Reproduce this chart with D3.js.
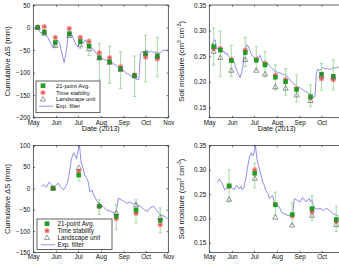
<!DOCTYPE html>
<html><head><meta charset="utf-8">
<script src="https://cdn.jsdelivr.net/npm/d3@7/dist/d3.min.js"></script>
<style>body{margin:0;background:#fff}svg{display:block;font-family:"Liberation Sans",Arial,sans-serif}</style>
</head><body><svg id="c" width="339" height="264"></svg>
<script>
// ---------- tick labels ----------
const monthLabels = ["May","Jun","Jul","Aug","Sep","Oct","Nov"];
const monthDates = ["2013-05-01","2013-06-01","2013-07-01","2013-08-01","2013-09-01","2013-10-01","2013-11-01"];
const dsTicksTop = [50,0,-50,-100,-150,-200];
const dsTicksBottom = [100,50,0,-50,-100,-150];
const smTicks = [0.15,0.20,0.25,0.30,0.35];
const legendLabels = ["21-point Avg.","Time stability","Landscape unit","Exp. filter"];

// ---------- top row: sampling dates ----------
const datesTop = ["2013-05-07","2013-05-16","2013-05-31","2013-06-19","2013-07-04","2013-07-16","2013-07-30","2013-08-13","2013-08-28","2013-09-16","2013-10-01","2013-10-17"];
// panel 1: cumulative storage change (mm)
const avg1 = [0,-10,-33,-14,-31,-41,-67,-76,-92,-107,-58,-63];
const ts1  = [1,2,-22,-2,-22,-31,-56,-67,-87,-105,-66,-70];
const lu1  = [0,-13,-40,-18,-39,-48,-68,-78,-93,-108,-57,-64];
const hi1  = [0,-5,-25,-7,-19,-25,-35,-42,-54,-63,-17,-22];
const lo1  = [0,-17,-45,-22,-46,-62,-116,-124,-135,-153,-120,-109];
// panel 2: soil moisture
const avg2 = [0.269,0.262,0.241,0.257,0.242,0.233,0.209,0.200,0.185,0.171,0.215,0.211];
const ts2  = [0.265,0.265,0.244,0.262,0.244,0.236,0.213,0.204,0.187,0.169,0.206,0.204];
const lu2  = [0.259,0.247,0.222,0.243,0.222,0.215,0.190,0.187,0.174,0.163,0.212,0.209];
const hi2  = [0.305,0.299,0.271,0.287,0.269,0.259,0.233,0.226,0.213,0.194,0.236,0.243];
const lo2  = [0.233,0.210,0.210,0.230,0.223,0.210,0.184,0.174,0.161,0.152,0.184,0.184];

// exp. filter series, top row
const filt1Dates = ["2013-05-05","2013-05-07","2013-05-09","2013-05-11","2013-05-13","2013-05-15","2013-05-17","2013-05-19","2013-05-21","2013-05-23","2013-05-25","2013-05-27","2013-05-29","2013-05-31","2013-06-02","2013-06-04","2013-06-06","2013-06-08","2013-06-10","2013-06-12","2013-06-14","2013-06-16","2013-06-17","2013-06-19","2013-06-21","2013-06-23","2013-06-25","2013-06-27","2013-06-29","2013-07-01","2013-07-03","2013-07-05","2013-07-07","2013-07-09","2013-07-11","2013-07-13","2013-07-15","2013-07-17","2013-07-19","2013-07-21","2013-07-23","2013-07-26","2013-07-28","2013-07-31","2013-08-03","2013-08-06","2013-08-09","2013-08-12","2013-08-15","2013-08-18","2013-08-21","2013-08-24","2013-08-27","2013-08-30","2013-09-02","2013-09-05","2013-09-08","2013-09-11","2013-09-14","2013-09-17","2013-09-20","2013-09-22","2013-09-24","2013-09-26","2013-09-28","2013-10-01","2013-10-03","2013-10-06","2013-10-09","2013-10-12","2013-10-15","2013-10-18","2013-10-21","2013-10-24","2013-10-27","2013-10-30","2013-11-01"];
const filt1Vals = [0,-4,-6,-12,-11,-16,-15,-20,-22,-30,-36,-42,-44,-31,-26,-30,-34,-50,-64,-78,-62,-40,-20,-4,-9,-18,-26,-34,-40,-42,-33,-30,-36,-32,-27,-35,-42,-45,-44,-49,-50,-58,-62,-68,-69,-71,-73,-74,-76,-80,-83,-87,-90,-94,-97,-101,-104,-107,-110,-113,-116,-115,-58,-53,-55,-54,-51,-55,-52,-56,-54,-56,-57,-51,-50,-51,-48];
const filt2Vals = [0.272,0.280,0.282,0.264,0.266,0.262,0.263,0.258,0.260,0.254,0.256,0.250,0.247,0.240,0.244,0.238,0.228,0.220,0.214,0.208,0.218,0.232,0.250,0.262,0.272,0.270,0.262,0.255,0.250,0.248,0.242,0.250,0.246,0.252,0.244,0.238,0.241,0.236,0.236,0.234,0.230,0.226,0.222,0.220,0.218,0.217,0.215,0.214,0.210,0.206,0.200,0.196,0.193,0.190,0.188,0.185,0.182,0.180,0.177,0.174,0.170,0.171,0.218,0.225,0.222,0.226,0.228,0.225,0.227,0.224,0.226,0.228,0.227,0.229,0.231,0.230,0.233];

// ---------- bottom row ----------
const datesBottom = ["2013-05-28","2013-07-02","2013-07-30","2013-08-22","2013-09-18","2013-10-21"];
const avg3 = [0,31,-42,-65,-51,-75];
const ts3  = [0,40,-42,-71,-59,-85];
const lu3  = [0,48,-40,-58,-40,-68];
const hi3  = [0,44,-27,-38,-27,-46];
const lo3  = [0,17,-61,-96,-81,-104];
const avg4 = [0.267,0.293,0.228,0.208,0.220,0.198];
const ts4  = [0.266,0.300,0.229,0.205,0.214,0.194];
const lu4  = [0.239,0.282,0.202,0.186,0.206,0.187];
const hi4  = [0.300,0.314,0.254,0.232,0.247,0.225];
const lo4  = [0.234,0.263,0.207,0.187,0.196,0.173];

const filt3Dates = ["2013-05-12","2013-05-15","2013-05-19","2013-05-22","2013-05-26","2013-05-28","2013-05-31","2013-06-04","2013-06-07","2013-06-11","2013-06-13","2013-06-15","2013-06-17","2013-06-20","2013-06-22","2013-06-25","2013-06-27","2013-06-29","2013-07-01","2013-07-03","2013-07-05","2013-07-08","2013-07-10","2013-07-13","2013-07-15","2013-07-17","2013-07-20","2013-07-22","2013-07-26","2013-07-30","2013-08-04","2013-08-08","2013-08-15","2013-08-20","2013-08-22","2013-08-25","2013-08-29","2013-09-02","2013-09-05","2013-09-10","2013-09-14","2013-09-16","2013-09-18","2013-09-20","2013-09-24","2013-09-29","2013-10-04","2013-10-07","2013-10-12","2013-10-17","2013-10-22","2013-10-27","2013-10-31"];
const filt3Vals = [4,8,2,14,8,0,6,12,4,-4,0,8,15,46,69,83,77,69,88,100,62,46,31,23,15,-8,-4,-15,-27,-38,-42,-50,-54,-58,-54,-23,-27,-31,-35,-32,-37,-35,-31,-40,-42,-50,-54,-46,-42,-54,-62,-66,-71];
const filt4Vals = [0.274,0.281,0.271,0.259,0.263,0.261,0.264,0.259,0.268,0.261,0.266,0.259,0.263,0.284,0.304,0.328,0.335,0.328,0.335,0.350,0.321,0.304,0.291,0.274,0.268,0.257,0.251,0.241,0.247,0.227,0.224,0.212,0.207,0.205,0.202,0.241,0.237,0.234,0.243,0.234,0.241,0.234,0.239,0.224,0.219,0.221,0.216,0.221,0.217,0.209,0.207,0.202,0.205];

// ---------- drawing ----------
const svg = d3.select("#c");
const parse = d3.timeParse("%Y-%m-%d");
const xDomain = [parse("2013-05-01"), parse("2013-11-01")];
const C = {sq:"#1f9f1f", starFill:"#f6aaaa", star:"#e23a3a", tri:"#555", line:"#7272e8", err:"#98d898", axis:"#222"};

function drawPanel(cfg, idx) {
  const x = d3.scaleTime().domain(xDomain).range([cfg.left, cfg.right]);
  const y = d3.scaleLinear().domain(cfg.yDomain).range([cfg.bottom, cfg.top]);
  const g = svg.append("g");
  const cid = "clip" + idx;
  svg.append("clipPath").attr("id", cid).append("rect")
    .attr("x", cfg.left).attr("y", cfg.top).attr("width", cfg.right - cfg.left).attr("height", cfg.bottom - cfg.top);
  const plot = g.append("g").attr("clip-path", `url(#${cid})`);

  // exp filter line
  const lineData = cfg.lineDates.map((d,i)=>({d:parse(d), v:cfg.lineVals[i]}));
  plot.append("path").datum(lineData)
    .attr("d", d3.line().x(p=>x(p.d)).y(p=>y(p.v)))
    .attr("fill","none").attr("stroke",C.line).attr("stroke-width",0.8);

  const pts = cfg.dates.map((d,i)=>({d:parse(d), a:cfg.avg[i], t:cfg.ts[i], l:cfg.lu[i], hi:cfg.hi[i], lo:cfg.lo[i]}));
  // error bars
  const eb = plot.selectAll(".eb").data(pts.filter(p=>p.hi!==p.lo)).join("g");
  eb.append("line").attr("x1",p=>x(p.d)).attr("x2",p=>x(p.d)).attr("y1",p=>y(p.hi)).attr("y2",p=>y(p.lo));
  eb.append("line").attr("x1",p=>x(p.d)-1.6).attr("x2",p=>x(p.d)+1.6).attr("y1",p=>y(p.hi)).attr("y2",p=>y(p.hi));
  eb.append("line").attr("x1",p=>x(p.d)-1.6).attr("x2",p=>x(p.d)+1.6).attr("y1",p=>y(p.lo)).attr("y2",p=>y(p.lo));
  eb.selectAll("line").attr("stroke",C.err).attr("stroke-width",0.9);

  // markers
  pts.forEach(p=>{
    drawStar(plot, x(p.d), y(p.t));
    drawSquare(plot, x(p.d), y(p.a));
    drawTri(plot, x(p.d), y(p.l));
  });

  // axes box
  g.append("rect").attr("x",cfg.left).attr("y",cfg.top).attr("width",cfg.right-cfg.left).attr("height",cfg.bottom-cfg.top)
    .attr("fill","none").attr("stroke",C.axis).attr("stroke-width",0.7);
  const mD = monthDates.map(parse);
  const ax = d3.axisBottom(x).tickValues(mD).tickFormat((d,i)=>monthLabels[i]).tickSizeInner(-1.8).tickSizeOuter(0).tickPadding(2.5);
  const xa = g.append("g").attr("transform",`translate(0,${cfg.bottom})`).call(ax);
  const ay = d3.axisLeft(y).tickValues(cfg.yTicks).tickFormat(cfg.fmt).tickSizeInner(-1.8).tickSizeOuter(0).tickPadding(3);
  const ya = g.append("g").attr("transform",`translate(${cfg.left},0)`).call(ay);
  const axT = d3.axisTop(x).tickValues(mD).tickFormat("").tickSizeInner(-1.8).tickSizeOuter(0);
  g.append("g").attr("transform",`translate(0,${cfg.top})`).call(axT);
  const ayR = d3.axisRight(y).tickValues(cfg.yTicks).tickFormat("").tickSizeInner(-1.8).tickSizeOuter(0);
  g.append("g").attr("transform",`translate(${cfg.right},0)`).call(ayR);
  g.selectAll(".domain").remove();
  g.selectAll(".tick line").attr("stroke",C.axis).attr("stroke-width",0.6);
  g.selectAll(".tick text").attr("font-size",6.3).attr("fill","#111").attr("font-family","Liberation Sans, Arial, sans-serif");

  // axis titles
  const yl = g.append("text").attr("transform",`translate(${cfg.ylx},${(cfg.top+cfg.bottom)/2}) rotate(-90)`)
    .attr("text-anchor","middle").attr("font-size",7.6).attr("fill","#111");
  if (cfg.sm) {
    yl.append("tspan").text("Soil moisture (cm");
    yl.append("tspan").text("3").attr("font-size",5).attr("dy",-2.6);
    yl.append("tspan").text(" cm").attr("dy",2.6);
    yl.append("tspan").text("-3").attr("font-size",5).attr("dy",-2.6);
    yl.append("tspan").text(")").attr("dy",2.6);
  } else {
    yl.text("Cumulative  ΔS (mm)");
  }
  if (cfg.xlabel) {
    g.append("text").attr("x",(cfg.left+cfg.right)/2).attr("y",cfg.bottom+13.5).attr("text-anchor","middle")
      .attr("font-size",7.2).attr("fill","#111").text("Date (2013)");
  }

  // legend
  if (cfg.legend) {
    const L = cfg.legend;
    const lg = g.append("g");
    lg.append("rect").attr("x",L.x).attr("y",L.y).attr("width",L.w).attr("height",L.h)
      .attr("fill","#fff").attr("stroke",C.axis).attr("stroke-width",0.7);
    legendLabels.forEach((lab,i)=>{
      const yy = L.y + L.pad + i*L.step;
      const mx = L.x + L.mx;
      if (i===0) drawSquare(lg, mx, yy);
      if (i===1) drawStar(lg, mx, yy);
      if (i===2) drawTri(lg, mx, yy);
      if (i===3) lg.append("line").attr("x1",L.x+L.l0).attr("x2",L.x+L.l1).attr("y1",yy).attr("y2",yy)
        .attr("stroke",C.line).attr("stroke-width",0.8);
      lg.append("text").attr("x",L.x+L.tx).attr("y",yy).attr("dy","0.35em").attr("font-size",L.fs).attr("fill","#111").text(lab);
    });
  }
}
function drawSquare(g,cx,cy){ g.append("rect").attr("x",cx-2.1).attr("y",cy-2.1).attr("width",4.2).attr("height",4.2).attr("fill",C.sq).attr("stroke","#1a8a1a").attr("stroke-width",0.3);}
function drawStar(g,cx,cy){
  g.append("circle").attr("cx",cx).attr("cy",cy).attr("r",2.7).attr("fill",C.starFill).attr("opacity",0.85);
  const r=2.2, q=r*0.707;
  g.append("path").attr("d",`M${cx-r},${cy}L${cx+r},${cy}M${cx},${cy-r}L${cx},${cy+r}M${cx-q},${cy-q}L${cx+q},${cy+q}M${cx-q},${cy+q}L${cx+q},${cy-q}`)
    .attr("stroke",C.star).attr("stroke-width",0.6).attr("fill","none");
}
function drawTri(g,cx,cy){
  g.append("path").attr("d",`M${cx},${cy-2.8}L${cx+2.6},${cy+1.7}L${cx-2.6},${cy+1.7}Z`).attr("fill","none").attr("stroke",C.tri).attr("stroke-width",0.6);
}

const fmtInt = d3.format("d");
const fmtSm = d3.format(".2f");
const topRow = {top:5, bottom:117.7};
const botRow = {top:145.5, bottom:252.5};
drawPanel({left:33.3,right:168.3,...topRow,yDomain:[-200,50],yTicks:dsTicksTop,fmt:fmtInt,ylx:10,xlabel:true,
  dates:datesTop,avg:avg1,ts:ts1,lu:lu1,hi:hi1,lo:lo1,lineDates:filt1Dates,lineVals:filt1Vals,
  legend:{x:36,y:81,w:64,h:31.7,pad:4.8,step:6.8,mx:7,l0:3,l1:17,tx:20,fs:5.8}},1);
drawPanel({left:209.3,right:344.3,...topRow,yDomain:[0.13,0.35],yTicks:smTicks,fmt:fmtSm,ylx:183.5,xlabel:true,sm:true,
  dates:datesTop,avg:avg2,ts:ts2,lu:lu2,hi:hi2,lo:lo2,lineDates:filt1Dates,lineVals:filt2Vals},2);
drawPanel({left:33.3,right:168.3,...botRow,yDomain:[-150,100],yTicks:dsTicksBottom,fmt:fmtInt,ylx:10,xlabel:false,
  dates:datesBottom,avg:avg3,ts:ts3,lu:lu3,hi:hi3,lo:lo3,lineDates:filt3Dates,lineVals:filt3Vals,
  legend:{x:37,y:219,w:75,h:30.5,pad:4.8,step:7,mx:10,l0:4,l1:18,tx:20.5,fs:6.3}},3);
drawPanel({left:209.3,right:344.3,...botRow,yDomain:[0.13,0.35],yTicks:smTicks,fmt:fmtSm,ylx:183.5,xlabel:false,sm:true,
  dates:datesBottom,avg:avg4,ts:ts4,lu:lu4,hi:hi4,lo:lo4,lineDates:filt3Dates,lineVals:filt4Vals},4);
</script></body></html>
